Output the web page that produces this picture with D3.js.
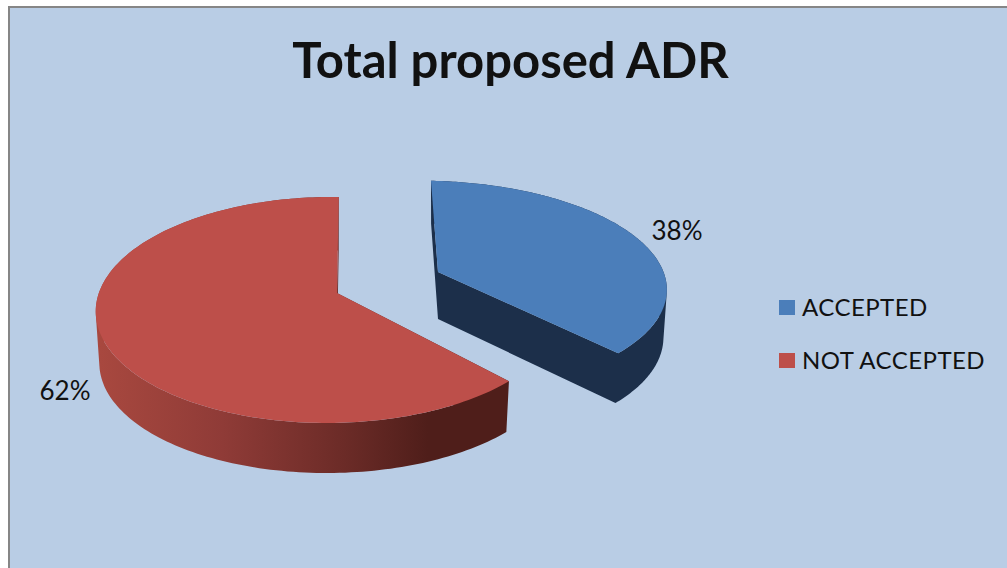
<!DOCTYPE html>
<html>
<head>
<meta charset="utf-8">
<title>Total proposed ADR</title>
<script src="https://cdnjs.cloudflare.com/ajax/libs/d3/7.8.5/d3.min.js"></script>
<style>
  html, body { margin: 0; padding: 0; background: #fff; }
  svg { display: block; }
  text { font-family: Lato, "Open Sans", sans-serif; fill: #111; }
</style>
</head>
<body>
<svg id="chart" width="1007" height="568"></svg>
<script>
// Chart content
const chartTitle = "Total proposed ADR";
const categories = ["ACCEPTED", "NOT ACCEPTED"];
const shares = [38, 62];
const topColors = ["#4b7eba", "#bd4f4a"];

// How each exploded slice sits on the page: apex, radii, tilt and extrusion
const sliceViews = [
  { ax: 438, ay: 272, rx: 237, ry: 104, skew: 8, p: 0.14, q: 0.051, depth: 47, depthFront: 5.5, shrink: 0.985 },
  { ax: 337, ay: 293, rx: 231, ry: 110.4, skew: -2, p: 0.15, q: 0.03, depth: 52, depthFront: 0, shrink: 0.985 }
];
const labelAnchors = [[677, 231], [65, 391]];
const legendRows = [300, 353];

const svg = d3.select("#chart");
const defs = svg.append("defs");

// The red wall darkens from left to right
const wallShade = defs.append("linearGradient")
  .attr("id", "redWall").attr("gradientUnits", "userSpaceOnUse")
  .attr("x1", 100).attr("x2", 510).attr("y1", 0).attr("y2", 0);
wallShade.selectAll("stop")
  .data([[0, "#a8483f"], [0.3, "#8f3b37"], [0.6, "#6b2b27"], [0.8, "#4f1e1a"], [1, "#4f1e1a"]])
  .join("stop")
  .attr("offset", d => d[0]).attr("stop-color", d => d[1]);
const wallFill = ["#1c2f4a", "url(#redWall)"];

// Panel with its grey frame running off the right and bottom edges
svg.append("rect")
  .attr("x", 9).attr("y", 7).attr("width", 1020).attr("height", 600)
  .attr("fill", "#b9cde5").attr("stroke", "#868686").attr("stroke-width", 2);

svg.append("text")
  .attr("x", 510.5).attr("y", 78)
  .attr("text-anchor", "middle")
  .attr("font-size", 49).attr("font-weight", 700)
  .text(chartTitle);

// Clockwise from twelve o'clock, first slice first
const pie = d3.pie().sort(null).value(d => d);
const arcs = pie(shares);

// Perspective mapping of a point on the unit disc onto the page
function project(view, theta, radius) {
  const u = Math.sin(theta) * radius;
  const v = -Math.cos(theta) * radius;
  const w = 1 - view.p * v + view.q * u;
  return {
    x: view.ax + (view.rx * u + view.skew * v) / w,
    y: view.ay + (view.ry * v) / w,
    v
  };
}

// The same point on the underside of the slice
function lower(view, pt) {
  return {
    x: view.ax + (pt.x - view.ax) * view.shrink,
    y: view.ay + (pt.y - view.ay) * view.shrink + view.depth + view.depthFront * pt.v
  };
}

const line = d3.line().x(d => d.x).y(d => d.y);

// One wall quad, always wound the same way so a path of many quads fills as a union
function wallQuad(view, a, b) {
  const quad = [a, b, lower(view, b), lower(view, a)];
  const area = d3.polygonArea(quad.map(p => [p.x, p.y]));
  return line(area < 0 ? quad.reverse() : quad) + "Z";
}

arcs.forEach((arc, i) => {
  const view = sliceViews[i];
  const rim = d3.range(0, 181).map(k =>
    project(view, arc.startAngle + (arc.endAngle - arc.startAngle) * k / 180, 1));
  const apex = { x: view.ax, y: view.ay, v: 0 };

  const slice = svg.append("g").attr("class", "slice");

  // Cut faces and curved wall as a single shape, then the top over it
  const strips = [[apex, rim[0]], [apex, rim[rim.length - 1]]]
    .concat(d3.pairs(rim));
  slice.append("path")
    .attr("d", strips.map(s => wallQuad(view, s[0], s[1])).join(""))
    .attr("fill", wallFill[i]);
  slice.append("path")
    .attr("d", line([apex].concat(rim)) + "Z")
    .attr("fill", topColors[i]);

  svg.append("text")
    .attr("x", labelAnchors[i][0]).attr("y", labelAnchors[i][1])
    .attr("dy", "0.35em").attr("text-anchor", "middle")
    .attr("font-size", 26)
    .text(shares[i] + "%");
});

// Legend
const legend = svg.append("g").selectAll("g").data(categories).join("g")
  .attr("transform", (d, i) => `translate(779,${legendRows[i]})`);
legend.append("rect")
  .attr("width", 16).attr("height", 15)
  .attr("fill", (d, i) => topColors[i]);
legend.append("text")
  .attr("x", 23).attr("y", 8).attr("dy", "0.35em")
  .attr("font-size", 24).attr("letter-spacing", 0.45)
  .text(d => d);
</script>
</body>
</html>
